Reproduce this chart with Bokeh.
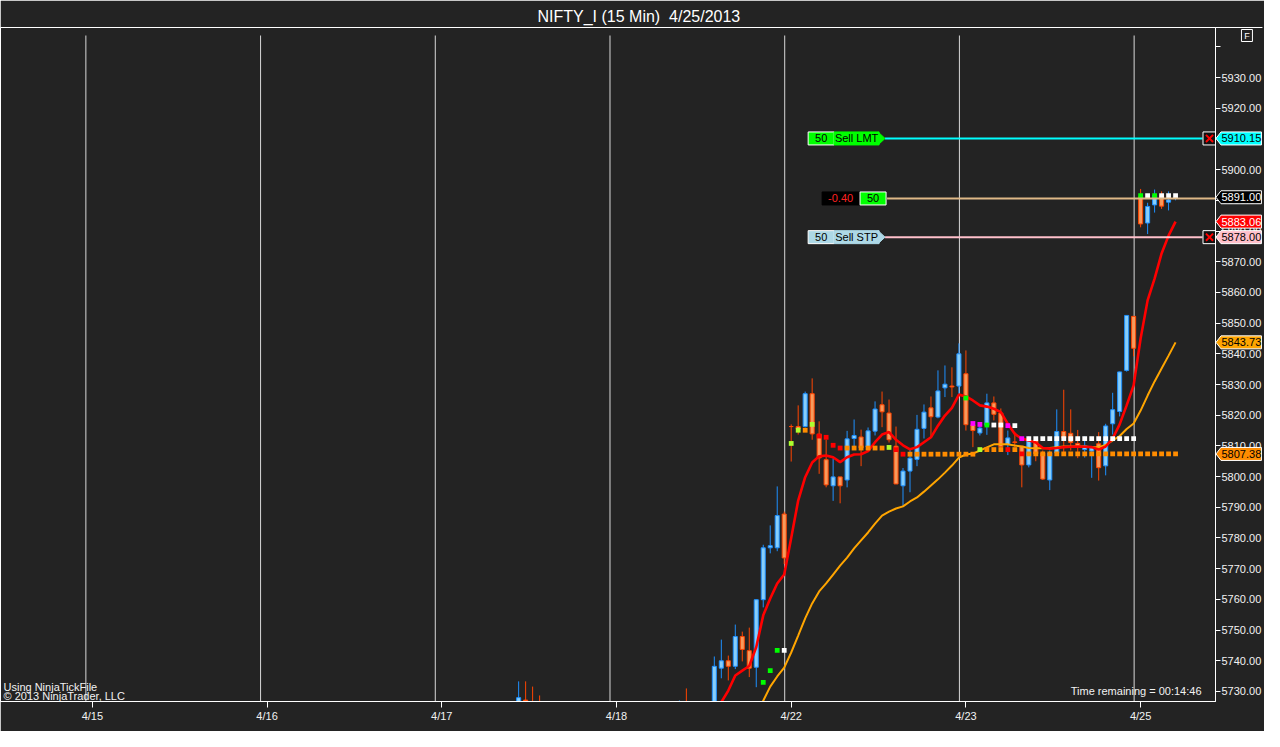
from bokeh.plotting import figure
from bokeh.models import (ColumnDataSource, Range1d, FixedTicker, SingleIntervalTicker,
                          PrintfTickFormatter, Label)
from bokeh.core.properties import value
from bokeh.embed import file_html
from bokeh.resources import INLINE

# ---------------- data ----------------
title_text = "NIFTY_I (15 Min)\u00a0 4/25/2013"
date_ticks = [0, 25, 50, 75, 100, 125, 150]
date_labels = ["4/15", "4/16", "4/17", "4/18", "4/22", "4/23", "4/25"]

bar = [61, 62, 63, 64, 84, 85] + list(range(89, 156))
opn = [5720.0, 5727.2, 5725.0, 5722.0, 5715.0, 5722.0,
       5722.0, 5737.6, 5740.0, 5738.2, 5747.9, 5743.3, 5737.9, 5759.9, 5776.8, 5776.8, 5787.8,
       5816.3, 5816.3, 5816.3, 5827.0, 5813.8, 5805.5, 5797.0, 5799.9, 5798.9, 5812.4, 5812.9,
       5809.6, 5814.8, 5823.4, 5820.7, 5809.9, 5797.0, 5801.8, 5805.6, 5815.7, 5822.4, 5819.4,
       5828.9, 5829.5, 5829.5,
       5833.5, 5816.9, 5814.2, 5816.7, 5824.0, 5820.7, 5810.4, 5811.3, 5809.9, 5803.8, 5811.8,
       5807.7, 5798.9, 5807.7, 5814.7, 5814.1, 5810.8, 5808.8, 5808.3, 5810.7, 5803.5, 5817.2,
       5821.2, 5834.6, 5852.2,
       5891.3, 5882.6, 5888.5, 5891.6, 5889.4, 5890.9]
high = [5733.3, 5733.3, 5731.6, 5728.7, 5727.1, 5731.0,
        5741.4, 5746.9, 5741.7, 5751.8, 5749.5, 5750.8, 5760.0, 5777.8, 5784.1, 5796.8, 5788.6,
        5817.0, 5823.2, 5827.7, 5832.0, 5818.0, 5812.0, 5806.0, 5799.9, 5814.9, 5818.6, 5815.3,
        5816.0, 5824.5, 5827.7, 5825.1, 5816.3, 5802.8, 5809.0, 5820.1, 5823.5, 5826.1, 5834.6,
        5836.2, 5835.6, 5843.4,
        5841.1, 5817.7, 5817.0, 5827.0, 5826.1, 5822.2, 5815.0, 5814.4, 5809.9, 5813.1, 5812.8,
        5808.5, 5808.5, 5821.9, 5828.3, 5821.9, 5815.2, 5813.1, 5809.8, 5814.5, 5817.2, 5827.3,
        5834.2, 5852.5, 5852.2,
        5893.7, 5889.2, 5893.5, 5892.9, 5892.9, 5891.9]
low = [5714.0, 5716.0, 5712.0, 5711.0, 5711.0, 5712.0,
       5718.0, 5734.3, 5733.6, 5737.3, 5739.8, 5734.7, 5731.4, 5757.4, 5775.0, 5775.7, 5771.5,
       5804.9, 5813.7, 5816.0, 5812.0, 5800.9, 5796.5, 5792.1, 5791.3, 5796.5, 5809.6, 5803.4,
       5808.0, 5813.4, 5816.1, 5811.1, 5797.6, 5790.4, 5794.9, 5803.4, 5812.4, 5812.6, 5819.0,
       5825.9, 5825.9, 5827.0,
       5815.0, 5809.6, 5813.4, 5813.6, 5818.3, 5809.0, 5807.0, 5809.6, 5796.5, 5803.0, 5805.0,
       5798.9, 5795.6, 5807.4, 5807.4, 5808.5, 5806.0, 5806.2, 5799.6, 5798.7, 5800.4, 5813.7,
       5819.6, 5834.2, 5839.2,
       5881.2, 5879.0, 5886.0, 5887.2, 5886.7, 5890.0]
close = [5728.0, 5726.9, 5718.0, 5716.0, 5720.0, 5716.0,
         5738.2, 5740.0, 5738.2, 5747.9, 5743.7, 5737.6, 5759.9, 5776.8, 5777.5, 5787.3, 5773.5,
         5816.3, 5815.6, 5827.0, 5813.9, 5806.1, 5797.3, 5799.9, 5797.0, 5812.3, 5813.4, 5809.3,
         5814.9, 5822.0, 5821.1, 5812.0, 5797.6, 5801.8, 5806.0, 5815.4, 5821.0, 5819.5, 5827.9,
         5830.1, 5829.2, 5840.0,
         5816.9, 5815.0, 5815.8, 5824.0, 5820.3, 5809.7, 5812.6, 5811.1, 5803.8, 5811.8, 5807.4,
         5799.2, 5807.7, 5814.7, 5812.6, 5811.1, 5809.6, 5810.0, 5809.4, 5802.9, 5816.5, 5821.8,
         5834.1, 5852.5, 5841.8,
         5882.3, 5888.0, 5891.6, 5888.1, 5890.1, 5891.0]

fast_bar = list(range(89, 156))
fast_ema = [5722.0, 5726.5, 5730.3, 5735.2, 5736.8, 5738.3, 5744.5, 5754.8, 5760.3, 5765.2, 5768.1,
            5780.0, 5792.2, 5799.8, 5804.6, 5806.6, 5806.9, 5806.3, 5804.7, 5806.3, 5807.2, 5807.3,
            5808.3, 5811.2, 5813.7, 5814.5, 5812.0, 5810.2, 5808.9, 5809.6, 5811.2, 5812.8, 5816.6,
            5819.9, 5822.4, 5826.7,
            5826.1, 5824.8, 5823.2, 5822.8, 5822.1, 5821.0, 5817.2, 5813.9, 5812.3, 5811.8, 5811.1,
            5809.3, 5809.1, 5809.3, 5809.6, 5809.7, 5809.8, 5809.7, 5809.6, 5808.8, 5809.8, 5812.4,
            5817.0, 5823.2, 5829.7,
            5845.0, 5857.4, 5864.5, 5872.7, 5878.5, 5883.06]

slow_bar = list(range(95, 156))
slow_ema = [5722.0, 5727.0, 5731.6, 5734.9, 5737.8,
            5742.7, 5748.2, 5753.8, 5758.7, 5762.6, 5765.2, 5768.1, 5771.0, 5773.6, 5776.6, 5779.2,
            5781.8, 5784.7, 5787.3, 5788.6, 5789.6, 5790.3, 5791.9, 5793.2, 5795.1, 5797.1, 5799.1,
            5801.3, 5803.6, 5806.2,
            5807.2, 5807.5, 5808.5, 5809.5, 5810.5, 5810.5, 5810.5, 5810.1, 5809.8, 5809.3, 5809.2,
            5809.2, 5809.3, 5809.6, 5809.8, 5809.8, 5809.8, 5809.8, 5809.6, 5809.6, 5810.3, 5811.8,
            5813.2, 5815.5, 5817.3,
            5821.5, 5826.4, 5831.0, 5835.2, 5839.4, 5843.73]

OR, RD, YG, LM, MG, WH = "#ff8c00", "#ff0000", "#adff2f", "#00ff00", "#ff00ff", "#ffffff"
dot_bar = ([96, 97, 98, 99] +
           [100, 101, 102, 103, 104, 105, 106, 107, 108, 109, 110, 111, 112, 113, 114, 115, 116,
            117, 118, 119, 120, 121, 122, 123, 124, 125, 126] +
           [127, 128, 129, 130, 131, 132, 133, 134, 135, 136, 137, 138, 139, 140, 141, 142, 143,
            144, 145, 146, 147, 148, 149, 150, 151, 152, 153, 154, 155] +
           [125, 126, 127, 128, 129, 130, 131, 132, 133, 134, 135, 136, 137, 138, 139, 140, 141,
            142, 143, 144, 145, 146, 147, 148, 149] +
           [150, 151, 152, 153, 154, 155])
dot_price = ([5733.0, 5736.8, 5743.4, 5743.4] +
             [5810.8, 5815.1, 5815.1, 5817.0, 5813.2, 5812.8, 5810.2, 5809.3, 5809.3, 5809.3,
              5809.3, 5809.3, 5809.3, 5809.3, 5809.5, 5808.8, 5807.3, 5807.3, 5807.3, 5807.3,
              5807.3, 5807.3, 5807.3, 5807.3, 5807.3, 5807.3, 5807.3] +
             [5808.8, 5808.8, 5808.8, 5808.8, 5808.8, 5808.8, 5807.4, 5807.38, 5807.38, 5807.38,
              5807.38, 5807.38, 5807.38, 5807.38, 5807.38, 5807.38, 5807.38, 5807.38, 5807.38,
              5807.38, 5807.38, 5807.38, 5807.38, 5807.38, 5807.38, 5807.38, 5807.38, 5807.38,
              5807.38] +
             [5825.6, 5817.3, 5817.0, 5816.8, 5816.8, 5816.8, 5816.6, 5816.6, 5812.4, 5812.4,
              5812.4, 5812.4, 5812.4, 5812.4, 5812.4, 5812.4, 5812.4, 5812.4, 5812.4, 5812.4,
              5812.4, 5812.4, 5812.4, 5812.4, 5812.4] +
             [5891.5, 5891.5, 5891.5, 5891.5, 5891.5, 5891.5])
dot_color = ([LM, LM, LM, WH] +
             [YG, YG, OR, YG, RD, RD, RD, RD, OR, OR, OR, OR, OR, OR, YG, RD, RD,
              OR, OR, OR, OR, OR, OR, OR, OR, OR, OR] +
             [YG, OR, OR, OR, RD, OR, RD] + [OR] * 22 +
             [LM, MG, MG, LM, WH, WH, MG, WH, MG] + [WH] * 16 +
             [LM, WH, LM, WH, WH, WH])

last_price = 5891.00
position_price = 5890.60
position_pnl = "-0.40"
position_qty = "50"
orders = [("Sell LMT", 5910.15, "#00ff00", "#00ffff"),
          ("Sell STP", 5878.00, "#add8e6", "#ffc0cb")]
fast_last = 5883.06
slow_last = 5843.73
stop_dots_last = 5807.38

# ---------------- figure ----------------
BG = "#232323"
FONT = "Liberation Sans"
W, H = 1264, 731
B_TOP, B_BOTTOM, B_RIGHT = 27, 30, 47
FRAME_W, FRAME_H = W - B_RIGHT, H - B_TOP - B_BOTTOM
X0 = -92 / 7.0
X1 = X0 + FRAME_W / 7.0
Y0, Y1 = 5726.74, 5946.29
DX = (X1 - X0) / FRAME_W   # data units per pixel (x)
DY = (Y1 - Y0) / FRAME_H   # data units per pixel (y)

p = figure(width=W, height=H, x_range=Range1d(X0, X1), y_range=Range1d(Y0, Y1),
           y_axis_location="right", output_backend="svg", toolbar_location=None,
           title=title_text, min_border_left=0, min_border_right=B_RIGHT,
           min_border_top=B_TOP, min_border_bottom=B_BOTTOM,
           background_fill_color=BG, border_fill_color=BG)
p.outline_line_color = "#ffffff"
p.title.text_color = "#ffffff"
p.title.text_font = FONT
p.title.text_font_size = "16px"
p.title.text_font_style = "normal"
p.title.align = "left"
p.title.offset = 537
p.title.standoff = 5

# axes
p.yaxis.ticker = SingleIntervalTicker(interval=10)
p.yaxis.formatter = PrintfTickFormatter(format="%.2f")
p.yaxis.major_label_overrides = {5940: ""}
for ax in (p.xaxis, p.yaxis):
    ax.axis_line_color = "#ffffff"
    ax.major_tick_line_color = "#ffffff"
    ax.minor_tick_line_color = None
    ax.major_tick_in = 0
    ax.major_label_text_color = "#f2f2f2"
    ax.major_label_text_font = FONT
    ax.major_label_text_font_size = "11px"
p.yaxis.major_tick_out = 5
p.yaxis.major_label_standoff = 1
p.xaxis.major_tick_out = 6
p.xaxis.major_label_standoff = 2
p.xaxis.ticker = FixedTicker(ticks=date_ticks)
p.xaxis.major_label_overrides = dict(zip(date_ticks, date_labels))

p.grid.visible = False
# session break lines (one bar before each date tick), starting a little below the top
session_x = [t - 1 + 0.5 * DX for t in date_ticks]
p.segment(x0=session_x, y0=[Y0] * len(session_x), x1=session_x,
          y1=[Y1 - 8 * DY] * len(session_x), line_color="#d8d8d8", line_width=1,
          level="underlay")

# candles
up = [c > o for o, c in zip(opn, close)]
src = ColumnDataSource(dict(
    x=bar, o=opn, h=high, l=low, c=close,
    top=[max(o, c) for o, c in zip(opn, close)],
    bot=[min(o, c) for o, c in zip(opn, close)],
    edge=["#1e90ff" if u else "#ff4500" for u in up],
    fill=["#87cefa" if u else "#f79a5c" for u in up],
))
p.segment(x0="x", y0="l", x1="x", y1="h", line_color="edge", line_width=1, source=src)
p.vbar(x="x", width=0.58, top="top", bottom="bot", fill_color="fill", line_color="edge",
       line_width=1, source=src)

# moving averages
p.line(slow_bar, slow_ema, line_color="#ffa500", line_width=2)
p.line(fast_bar, fast_ema, line_color="#ff0000", line_width=2.6)

# indicator dots
p.scatter(dot_bar, dot_price, marker="square", size=4.8, fill_color=dot_color, line_color=None)

# ---------------- order / position lines ----------------
tag_x = X0 + 809 * DX          # left edge of the chart-trader tags
box_x = X0 + 1211 * DX         # cancel box centre


def txt(x, y, s, color, size="11px", align="center", level="glyph"):
    p.text(x=[x], y=[y], text=[s], text_color=color, text_font=value(FONT),
           text_font_size=size, text_align=align, text_baseline="middle", level=level)


def box(xl, w, y, fill, line):
    p.rect(x=[xl + w * DX / 2], y=[y], width=w, height=13, width_units="screen",
           height_units="screen", fill_color=fill, line_color=line, line_width=1)


for name, price, tag_col, line_col in orders:
    p.segment(x0=[tag_x + 77 * DX], y0=[price], x1=[box_x - 7 * DX], y1=[price],
              line_color=line_col, line_width=2)
    box(tag_x, 26, price, tag_col, "#ffffff")
    box(tag_x + 26 * DX, 45, price, tag_col, tag_col)
    p.patch([tag_x + 70 * DX, tag_x + 77 * DX, tag_x + 70 * DX],
            [price + 6.5 * DY, price, price - 6.5 * DY], fill_color=tag_col, line_color=tag_col)
    txt(tag_x + 13 * DX, price, "50", "#000000")
    txt(tag_x + 48.5 * DX, price, name, "#000000")
    p.rect(x=[box_x], y=[price], width=13, height=13, width_units="screen",
           height_units="screen", fill_color="#111111", line_color="#ffffff")
    p.scatter([box_x], [price], marker="x", size=10, line_color="#ff0000", line_width=2)

p.segment(x0=[tag_x + 79 * DX], y0=[position_price], x1=[X1], y1=[position_price],
          line_color="#deb887", line_width=2)
box(tag_x + 14 * DX, 37, position_price, "#000000", "#000000")
txt(tag_x + 32.5 * DX, position_price, position_pnl, "#ff2020")
box(tag_x + 52 * DX, 26, position_price, "#00ff00", "#ffffff")
txt(tag_x + 65 * DX, position_price, position_qty, "#000000")

# ---------------- price markers on the axis (overlay level, outside the frame) ----------
markers = [(orders[0][1], "#00ffff", "#000000"),
           (last_price, "#000000", "#ffffff"),
           (fast_last, "#ff0000", "#ffffff"),
           (orders[1][1], "#ffc0cb", "#000000"),
           (slow_last, "#ffa500", "#000000"),
           (stop_dots_last, "#ff8c00", "#000000")]
mx = [X1 + d * DX for d in (0.5, 5.5, 46, 46, 5.5)]
for price, bg, fg in markers:
    my = [price, price + 6.5 * DY, price + 6.5 * DY, price - 6.5 * DY, price - 6.5 * DY]
    p.patch(mx, my, fill_color=bg, line_color="#ffffff", line_width=1, level="overlay")
    txt(X1 + 6 * DX, price, "%.2f" % price, fg, align="left", level="overlay")

# extension of the top border and the "F" box
p.segment(x0=[X1], y0=[Y1], x1=[X1 + 47 * DX], y1=[Y1], line_color="#ffffff",
          line_width=1, level="overlay")
p.rect(x=[X1 + 31.5 * DX], y=[Y1 - 8 * DY], width=11, height=12, width_units="screen",
       height_units="screen", fill_color=BG, line_color="#ffffff", level="overlay")
txt(X1 + 31.5 * DX, Y1 - 8 * DY, "F", "#ffffff", size="9px", level="overlay")

# ---------------- texts inside the chart ----------------
p.add_layout(Label(x=X0, y=Y0, x_offset=3, y_offset=15, text="Using NinjaTickFile",
                   text_align="left", text_baseline="middle", text_color="#f2f2f2",
                   text_font=FONT, text_font_size="11px"))
p.add_layout(Label(x=X0, y=Y0, x_offset=3, y_offset=6, text="\u00a9 2013 NinjaTrader, LLC",
                   text_align="left", text_baseline="middle", text_color="#f2f2f2",
                   text_font=FONT, text_font_size="11px"))
p.add_layout(Label(x=X1, y=Y0, x_offset=-14, y_offset=11, text="Time remaining = 00:14:46",
                   text_align="right", text_baseline="middle", text_color="#f2f2f2",
                   text_font=FONT, text_font_size="11px"))

open("out.html", "w").write(file_html(p, INLINE))
